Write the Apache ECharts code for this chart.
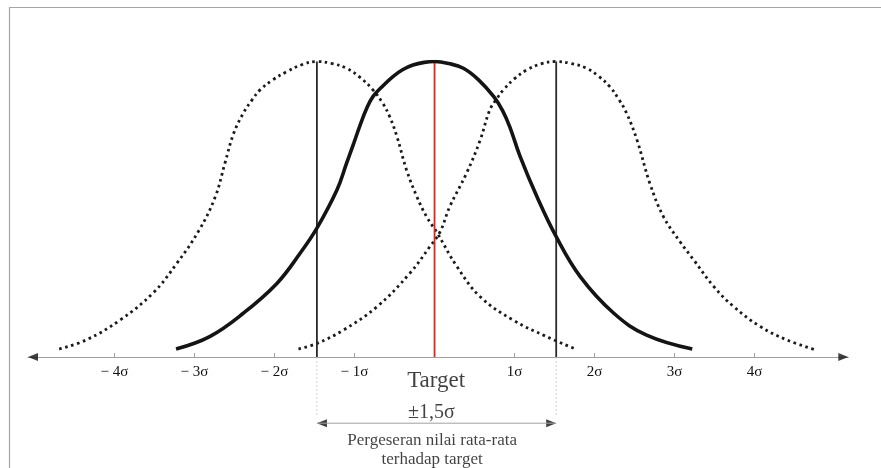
<!DOCTYPE html>
<html>
<head>
<meta charset="utf-8">
<script src="https://cdn.jsdelivr.net/npm/echarts@6/dist/echarts.min.js"></script>
<style>html,body{margin:0;padding:0;background:#fff}#c{width:881px;height:468px}</style>
</head>
<body>
<div id="c"></div>
<script>
// ---- data (x in sigma units, y in % of peak height) ----
const tickValues = [-4, -3, -2, -1, 1, 2, 3, 4];
const tickLabels = ['\u2212 4\u03c3', '\u2212 3\u03c3', '\u2212 2\u03c3', '\u2212 1\u03c3', '1\u03c3', '2\u03c3', '3\u03c3', '4\u03c3'];
const shiftLeft = -1.47;
const shiftRight = 1.52;
const solidX = [-3.23, -2.81, -2.39, -1.97, -1.68, -1.47, -1.22, -1.10, -1.01, -0.93, -0.85, -0.77, -0.64, -0.52, -0.40, -0.27, -0.13, 0, 0.18, 0.36, 0.55, 0.74, 0.85, 0.94, 1.07, 1.28, 1.52, 1.82, 2.24, 2.65, 3.22];
const solidY = [2.7, 6.9, 14.8, 24.9, 35.1, 43.6, 56.5, 65.5, 72.3, 78.5, 84.0, 88.1, 91.9, 94.9, 97.2, 98.8, 99.7, 100, 99.3, 97.7, 93.8, 88.1, 83.4, 77.9, 67.8, 54.2, 40.7, 27.2, 14.8, 7.4, 2.7];
const leftX = [-4.69, -4.35, -3.93, -3.52, -3.22, -2.94, -2.74, -2.62, -2.51, -2.39, -2.28, -2.18, -2.02, -1.85, -1.66, -1.47, -1.28, -1.10, -0.93, -0.77, -0.65, -0.56, -0.47, -0.35, -0.22, -0.10, 0.03, 0.28, 0.57, 0.98, 1.40, 1.76];
const leftY = [2.7, 5.8, 12.5, 21.6, 31.7, 43.0, 54.2, 65.5, 75.7, 82.5, 87.0, 90.4, 93.8, 96.5, 98.9, 100, 99.3, 97.7, 94.6, 90.4, 86.0, 81.3, 74.6, 63.3, 54.2, 47.5, 42.1, 30.6, 20.4, 12.5, 6.9, 2.7];
const rightX = [-1.70, -1.47, -1.14, -0.72, -0.31, -0.06, 0.07, 0.19, 0.40, 0.57, 0.69, 0.78, 0.86, 1.00, 1.15, 1.33, 1.52, 1.71, 1.90, 2.05, 2.19, 2.30, 2.40, 2.53, 2.69, 2.86, 3.07, 3.24, 3.49, 3.74, 4.07, 4.40, 4.74];
const rightY = [2.7, 4.6, 9.1, 17.0, 28.3, 37.3, 42.4, 50.9, 62.2, 73.4, 83.6, 87.5, 90.4, 94.2, 97.1, 99.2, 100, 99.3, 97.7, 95.0, 91.5, 87.3, 82.5, 73.4, 58.8, 47.5, 38.9, 32.8, 23.8, 17.0, 10.3, 5.8, 2.6];
const axisMin = -5.08, axisMax = 5.17;
const targetLabel = 'Target';
const shiftLabel = '\u00b11,5\u03c3';
const noteLabel = 'Pergeseran nilai rata-rata\nterhadap target';

const zip = (xs, ys) => xs.map((x, i) => [x, ys[i]]);
const serif = '"Liberation Serif", "DejaVu Serif", serif';
const ink = '#111111';
const arrowR = 'path://M0,0 L10,4 L0,8 Z';
const arrowL = 'path://M10,0 L0,4 L10,8 Z';
const lbl = (extra) => Object.assign({ show: true, position: 'inside', fontFamily: serif, color: ink }, extra);

const chart = echarts.init(document.getElementById('c'));
chart.setOption({
  animation: false,
  backgroundColor: '#fff',
  grid: [
    { left: 28, right: 32.7, top: 61.5, bottom: 111, outerBoundsMode: 'none', containLabel: false },
    { left: 28, right: 32.7, top: 357, bottom: 0, outerBoundsMode: 'none', containLabel: false }
  ],
  xAxis: [
    {
      gridIndex: 0, type: 'value', min: axisMin, max: axisMax,
      axisLine: { show: true, onZero: false, lineStyle: { color: '#a0a0a0', width: 1 } },
      axisTick: { show: true, inside: true, length: 4, customValues: tickValues, lineStyle: { color: '#a0a0a0' } },
      axisLabel: {
        customValues: tickValues, margin: 8, color: ink, fontFamily: serif, fontSize: 15, hideOverlap: false,
        formatter: v => { const i = tickValues.indexOf(Math.round(v)); return i >= 0 ? tickLabels[i] : ''; }
      },
      splitLine: { show: false }
    },
    { gridIndex: 1, type: 'value', min: axisMin, max: axisMax, show: false, splitLine: { show: false } }
  ],
  yAxis: [
    { gridIndex: 0, type: 'value', min: 0, max: 100, show: false, splitLine: { show: false } },
    { gridIndex: 1, type: 'value', min: -37.56, max: 0, show: false, splitLine: { show: false } }
  ],
  graphic: [
    { type: 'polyline', shape: { points: [[9.5, 468], [9.5, 7.5], [881, 7.5]] }, style: { stroke: '#a5a5a5', lineWidth: 1.2, fill: null }, silent: true }
  ],
  series: [
    { type: 'line', data: zip(leftX, leftY), smooth: 0.4, showSymbol: false, lineStyle: { color: '#1a1a1a', width: 2.8, type: [2.6, 3.6], cap: 'butt' } },
    { type: 'line', data: zip(rightX, rightY), smooth: 0.4, showSymbol: false, lineStyle: { color: '#1a1a1a', width: 2.8, type: [2.6, 3.6], cap: 'butt' } },
    { type: 'line', data: [[shiftLeft, 0], [shiftLeft, 100]], showSymbol: false, lineStyle: { color: '#2a2a2a', width: 1.8 } },
    { type: 'line', data: [[shiftRight, 0], [shiftRight, 100]], showSymbol: false, lineStyle: { color: '#2a2a2a', width: 1.8 } },
    { type: 'line', data: [[0, 0], [0, 100]], showSymbol: false, lineStyle: { color: '#e32219', width: 1.8 } },
    { type: 'line', data: zip(solidX, solidY), smooth: 0.4, showSymbol: false, lineStyle: { color: '#141414', width: 3.6 } },
    { type: 'scatter', clip: false, silent: true, itemStyle: { color: '#111' }, symbolSize: [10, 8],
      data: [
        { value: [axisMin + 0.0625, 0], symbol: arrowL },
        { value: [axisMax - 0.0625, 0], symbol: arrowR }
      ] },
    // lower annotation grid
    { type: 'line', xAxisIndex: 1, yAxisIndex: 1, data: [[shiftLeft, 0], [shiftLeft, -20]], showSymbol: false, lineStyle: { color: '#d0d0d0', width: 1, type: [2, 2] } },
    { type: 'line', xAxisIndex: 1, yAxisIndex: 1, data: [[shiftRight, 0], [shiftRight, -20]], showSymbol: false, lineStyle: { color: '#d0d0d0', width: 1, type: [2, 2] } },
    { type: 'line', xAxisIndex: 1, yAxisIndex: 1, data: [[shiftLeft, -22.4], [shiftRight, -22.4]], showSymbol: false, lineStyle: { color: '#a0a0a0', width: 1 } },
    { type: 'scatter', xAxisIndex: 1, yAxisIndex: 1, clip: false, silent: true, itemStyle: { color: '#111' }, symbolSize: [10, 8],
      data: [
        { value: [shiftLeft + 0.0625, -22.4], symbol: arrowL },
        { value: [shiftRight - 0.0625, -22.4], symbol: arrowR }
      ] },
    { type: 'scatter', xAxisIndex: 1, yAxisIndex: 1, clip: false, silent: true, symbol: 'circle', symbolSize: 1,
      itemStyle: { color: 'rgba(0,0,0,0)' },
      data: [
        { value: [0.02, -8.1], label: lbl({ formatter: targetLabel, fontSize: 23 }) },
        { value: [-0.04, -19.0], label: lbl({ formatter: shiftLabel, fontSize: 20 }) },
        { value: [-0.03, -31.6], label: lbl({ formatter: noteLabel, fontSize: 17, lineHeight: 19, align: 'center' }) }
      ] }
  ]
});
</script>
</body>
</html>
